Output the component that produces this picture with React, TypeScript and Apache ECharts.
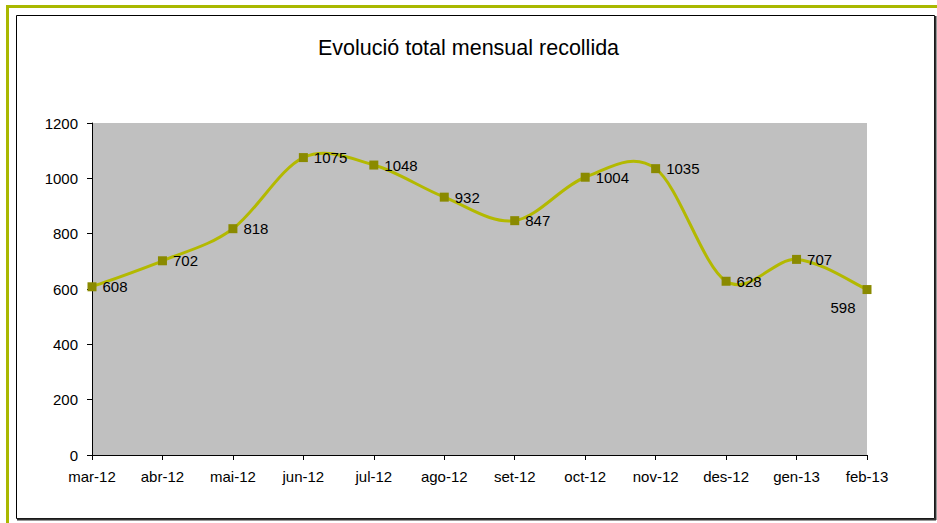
import React, { useEffect, useRef } from "react";
import * as echarts from "echarts";

const titleText = "Evolució total mensual recollida";
const categories = ["mar-12", "abr-12", "mai-12", "jun-12", "jul-12", "ago-12", "set-12", "oct-12", "nov-12", "des-12", "gen-13", "feb-13"];
const values = [608, 702, 818, 1075, 1048, 932, 847, 1004, 1035, 628, 707, 598];

export default function App() {
  const ref = useRef<HTMLDivElement>(null);
  useEffect(() => {
    document.body.style.margin = "0";
    const chart = echarts.init(ref.current!, null, { renderer: "svg" });
    const font = "Liberation Sans, Arial, sans-serif";
    chart.setOption({
      animation: false,
      backgroundColor: "#ffffff",
      title: {
        text: titleText,
        left: "center",
        top: 32,
        textStyle: { fontFamily: font, fontSize: 21.5, fontWeight: "normal", color: "#000" },
      },
      grid: {
        left: 92,
        right: 70,
        top: 123,
        bottom: 68,
        show: true,
        backgroundColor: "#c0c0c0",
        borderWidth: 0,
      },
      xAxis: {
        type: "category",
        data: categories,
        boundaryGap: false,
        axisLine: { lineStyle: { color: "#000", width: 1 } },
        axisTick: { show: true, length: 5, inside: false, lineStyle: { color: "#000" } },
        axisLabel: { fontFamily: font, fontSize: 15, color: "#000", margin: 14, interval: 0 },
        splitLine: { show: false },
      },
      yAxis: {
        type: "value",
        min: 0,
        max: 1200,
        interval: 200,
        axisLine: { show: true, lineStyle: { color: "#000", width: 1 } },
        axisTick: { show: true, length: 5, lineStyle: { color: "#000" } },
        axisLabel: {
          fontFamily: font,
          fontSize: 15,
          color: "#000",
          margin: 14,
          formatter: (v: number) => String(v),
        },
        splitLine: { show: false },
      },
      series: [
        {
          type: "custom",
          z: 1,
          silent: true,
          data: [[0, values[0]]],
          renderItem: (params: any, api: any) => {
            const pts = values.map((v, i) => api.coord([i, v]));
            const t = 1 / 6;
            let d = `M${pts[0][0]},${pts[0][1]}`;
            for (let i = 0; i < pts.length - 1; i++) {
              const p0 = pts[i - 1] || pts[i];
              const p1 = pts[i];
              const p2 = pts[i + 1];
              const p3 = pts[i + 2] || pts[i + 1];
              const c1x = p1[0] + (p2[0] - p0[0]) * t;
              const c1y = p1[1] + (p2[1] - p0[1]) * t;
              const c2x = p2[0] - (p3[0] - p1[0]) * t;
              const c2y = p2[1] - (p3[1] - p1[1]) * t;
              d += ` C${c1x},${c1y} ${c2x},${c2y} ${p2[0]},${p2[1]}`;
            }
            return {
              type: "path",
              shape: { pathData: d },
              style: { fill: "none", stroke: "#b3b900", lineWidth: 3 },
            };
          },
        },
        {
          type: "line",
          z: 3,
          data: values.map((v, i) =>
            i === values.length - 1
              ? { value: v, label: { position: "bottom", distance: 6, offset: [-24, 0] } }
              : v
          ),
          lineStyle: { width: 0, opacity: 0 },
          itemStyle: { color: "#8a8a00" },
          symbol: "rect",
          symbolSize: 9,
          label: {
            show: true,
            position: "right",
            distance: 6,
            fontFamily: font,
            fontSize: 15,
            color: "#000",
          },
        },
      ],
      graphic: [
        {
          type: "rect",
          shape: { x: 7.5, y: 6.5, width: 1000, height: 600 },
          style: { fill: "none", stroke: "#a9b800", lineWidth: 3 },
          silent: true,
        },
        {
          type: "rect",
          shape: { x: 16.5, y: 15.5, width: 918, height: 503 },
          style: { fill: "none", stroke: "#000", lineWidth: 1 },
          silent: true,
        },
        {
          type: "line",
          shape: { x1: 935.5, y1: 16, x2: 935.5, y2: 520 },
          style: { stroke: "#333", lineWidth: 2 },
          silent: true,
        },
        {
          type: "line",
          shape: { x1: 17, y1: 519.5, x2: 936, y2: 519.5 },
          style: { stroke: "#333", lineWidth: 2 },
          silent: true,
        },
      ],
    });
    return () => chart.dispose();
  }, []);
  return <div ref={ref} style={{ width: 937, height: 523 }} />;
}
